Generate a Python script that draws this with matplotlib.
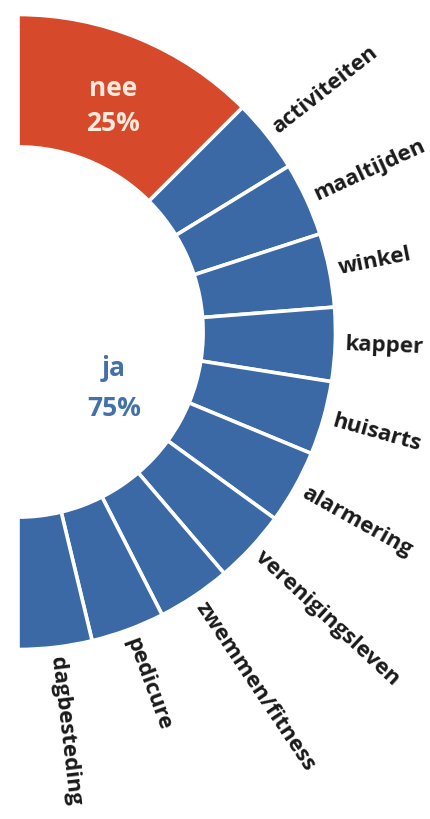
import numpy as np
import matplotlib.pyplot as plt

# data: share "nee" plus ten equal "ja" categories (half donut)
categories = ['activiteiten', 'maaltijden', 'winkel', 'kapper', 'huisarts',
              'alarmering', 'verenigingsleven', 'zwemmen/fitness', 'pedicure',
              'dagbesteding']
nee_value = 25
ja_values = [7.5] * 10
hidden_half = 100  # left half of the circle stays empty

red = '#d6492b'
blue = '#3a69a6'

plt.rcParams['font.family'] = ['Open Sans', 'DejaVu Sans']

fig = plt.figure(figsize=(4.30, 8.19), dpi=100)
ax = fig.add_axes([0, 0, 1, 1])

values = [nee_value] + ja_values + [hidden_half]
colors = [red] + [blue] * len(ja_values) + ['none']
wedges, _ = ax.pie(values, colors=colors, startangle=90, counterclock=False,
                   radius=1.0,
                   wedgeprops=dict(width=0.417, edgecolor='white', linewidth=2.6))
wedges[-1].set_edgecolor('none')

# radial labels outside the ring
for w, name in zip(wedges[1:-1], categories):
    ang = (w.theta1 + w.theta2) / 2
    r = 1.03
    x = r * np.cos(np.radians(ang))
    y = r * np.sin(np.radians(ang))
    ax.text(x, y, name, rotation=ang, rotation_mode='anchor',
            ha='left', va='center', fontsize=16, fontweight='bold',
            color='#1a1a1a')

# pixel layout: centre at (18, 332), outer radius 317.5 px
scale = 317.5
cx, cy = 18, 332
ax.set_xlim(-cx / scale, (430 - cx) / scale)
ax.set_ylim(-(819 - cy) / scale, cy / scale)
ax.set_aspect('auto')
ax.axis('off')

def px(xp, yp):
    return (xp - cx) / scale, (cy - yp) / scale

ax.text(*px(113, 96), 'nee', ha='center', va='baseline', fontsize=19,
        fontweight='bold', color='#fbe9dc')
ax.text(*px(113, 131), '25%', ha='center', va='baseline', fontsize=19,
        fontweight='bold', color='#fbe9dc')
ax.text(*px(114, 376), 'ja', ha='center', va='baseline', fontsize=19,
        fontweight='bold', color='#4470aa')
ax.text(*px(114, 416), '75%', ha='center', va='baseline', fontsize=19,
        fontweight='bold', color='#4470aa')

fig.savefig('out.png', dpi=100)
